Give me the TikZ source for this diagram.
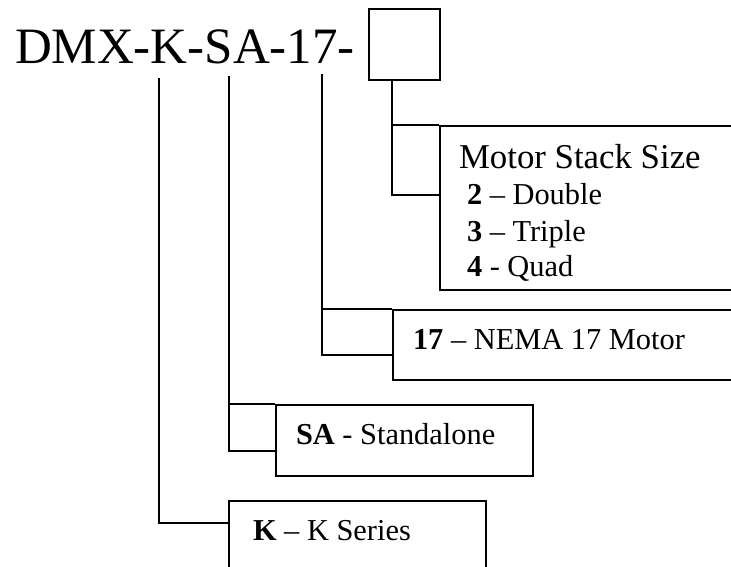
\documentclass[tikz,border=0pt]{standalone}
\usepackage{fontspec}
\setmainfont{Liberation Serif}
\usetikzlibrary{positioning, calc}

\begin{document}
\begin{tikzpicture}[
			x = 1pt, y = -1pt,
			line width = 2pt,
			box/.style = {draw, rectangle, anchor=north west, inner sep=0pt},
			title/.style = {anchor=base west, inner sep=0pt, font=\fontsize{51}{51}\selectfont},
			head/.style = {anchor=base west, inner sep=0pt, font=\fontsize{34.8}{34.8}\selectfont},
			item/.style = {anchor=base west, inner sep=0pt, font=\fontsize{30.4}{30.4}\selectfont}
			]
			
			\useasboundingbox (0,0) rectangle (731,566);
			\clip (0,0) rectangle (731,566);
			
			% Define part number
			\node[title] (code) at (14,63) {DMX-K-SA-17-};
			\node[box, minimum width=71pt, minimum height=71pt] (size) at (368,8) {};
			
			% Define option boxes
			\node[box, minimum width=400pt, minimum height=164pt] (stackbox) at (439,125) {};
			\node[box, minimum width=400pt, minimum height=70pt] (nemabox) at (392,309) {};
			\node[box, minimum width=257pt, minimum height=71pt] (sabox) at (275,404) {};
			\node[box, minimum width=257pt, minimum height=100pt] (kbox) at (228,500) {};
			
			% Define labels
			\node[head] (stack) at (458,168) {Motor Stack Size};
			\node[item] (double) at (466,204) {\textbf{2} -- Double};
			\node[item] (triple) at (466,241) {\textbf{3} -- Triple};
			\node[item] (quad) at (466,276) {\textbf{4} - Quad};
			\node[item] (nema) at (412,349) {\textbf{17} -- NEMA 17 Motor};
			\node[item] (sa) at (295,444) {\textbf{SA} - Standalone};
			\node[item] (k) at (252,540) {\textbf{K} -- K Series};
			
			% Define leads
			\coordinate (kTop) at (159,78);
			\coordinate (saTop) at (229,76);
			\coordinate (nemaTop) at (322,74);
			\coordinate (sizeLead) at ($(size.south west)+(24,0)$);
			
			\draw[line width=1.5pt] (kTop) |- ($(kbox.north west)+(0,23)$);
			\draw (saTop) |- ($(sabox.north west)+(0,47)$);
			\draw (saTop |- sabox.north) -- (sabox.north west);
			\draw (nemaTop) |- ($(nemabox.north west)+(0,46)$);
			\draw (nemaTop |- nemabox.north) -- (nemabox.north west);
			\draw (sizeLead) |- ($(stackbox.north west)+(0,70)$);
			\draw (sizeLead |- stackbox.north) -- (stackbox.north west);
			
		\end{tikzpicture}
\end{document}
